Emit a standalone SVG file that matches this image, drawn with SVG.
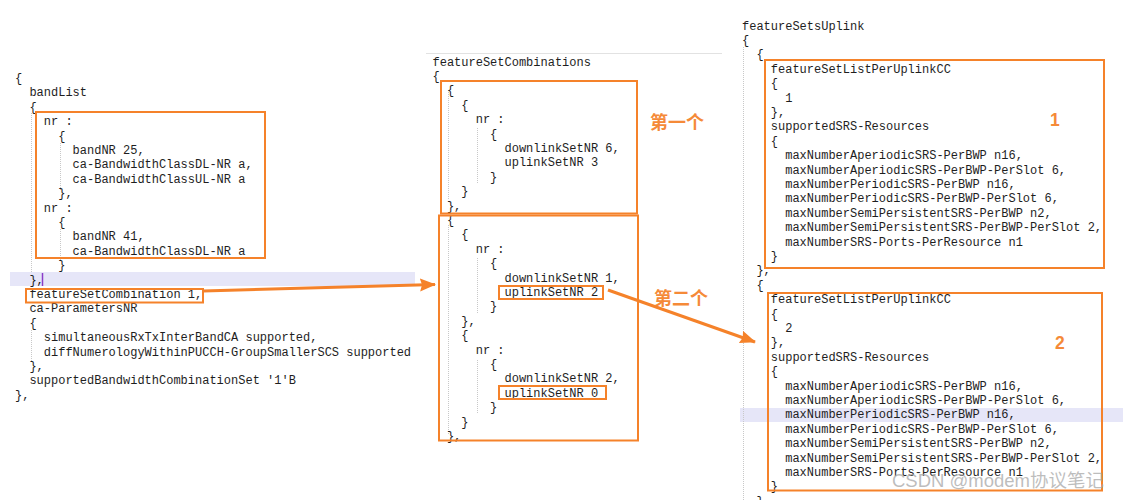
<svg xmlns="http://www.w3.org/2000/svg" width="1123" height="500" viewBox="0 0 1123 500">
<style>
.c{font-family:"Liberation Mono","Courier New",monospace;font-size:12px;fill:#1e1e1e}
.box{fill:none;stroke:#F5822A;stroke-width:2}
.guide{stroke:#c8c8c8;stroke-width:1;stroke-dasharray:1 1;fill:none}
.hl{fill:#E6E6F8}
.lbl{font-family:"Noto Sans CJK SC","Noto Sans",sans-serif;font-weight:bold;font-size:18px;fill:#F58A38}
.num{font-family:"Liberation Sans",Arial,sans-serif;font-weight:bold;font-size:17.5px;fill:#F58A38}
.conn{stroke:#F5822A;stroke-width:3;fill:none}
</style>
<defs>
<marker id="ah" markerUnits="userSpaceOnUse" markerWidth="16" markerHeight="14" refX="15" refY="6.5" orient="auto">
<path d="M0,0 L16,6.5 L0,13 L2,6.5 Z" fill="#F5822A"/>
</marker>
</defs>
<rect width="1123" height="500" fill="#ffffff"/>

<!-- backgrounds -->
<rect class="hl" x="10" y="272" width="405" height="14"/>
<rect class="hl" x="740" y="408" width="383" height="14"/>
<line x1="426" y1="53.5" x2="722" y2="53.5" stroke="#e2e2e2" stroke-width="1"/>
<line x1="42.5" y1="273" x2="42.5" y2="286" stroke="#8a3cc8" stroke-width="1.5"/>

<!-- indent guides -->
<g id="guides">
<line class="guide" x1="31.5" y1="113" x2="31.5" y2="272"/>
<line class="guide" x1="60.5" y1="143" x2="60.5" y2="190"/>
<line class="guide" x1="60.5" y1="229" x2="60.5" y2="261"/>
<line class="guide" x1="31.5" y1="330" x2="31.5" y2="361"/>
<line class="guide" x1="448.5" y1="90" x2="448.5" y2="200"/>
<line class="guide" x1="477.5" y1="128" x2="477.5" y2="183"/>
<line class="guide" x1="448.5" y1="225" x2="448.5" y2="434"/>
<line class="guide" x1="477.5" y1="258" x2="477.5" y2="314"/>
<line class="guide" x1="477.5" y1="360" x2="477.5" y2="413"/>
<line class="guide" x1="743.5" y1="47" x2="743.5" y2="500"/>
</g>

<!-- left panel -->
<g id="bandCombination">
<text class="c">
<tspan x="15" y="82">{</tspan>
<tspan x="29.4" y="96.4">bandList</tspan>
<tspan x="29.4" y="110.8">{</tspan>
<tspan x="43.8" y="125.2">nr :</tspan>
<tspan x="58.2" y="139.6">{</tspan>
<tspan x="72.6" y="154">bandNR 25,</tspan>
<tspan x="72.6" y="168.4">ca-BandwidthClassDL-NR a,</tspan>
<tspan x="72.6" y="182.8">ca-BandwidthClassUL-NR a</tspan>
<tspan x="58.2" y="197.2">},</tspan>
<tspan x="43.8" y="211.6">nr :</tspan>
<tspan x="58.2" y="226">{</tspan>
<tspan x="72.6" y="240.4">bandNR 41,</tspan>
<tspan x="72.6" y="254.8">ca-BandwidthClassDL-NR a</tspan>
<tspan x="58.2" y="269.2">}</tspan>
<tspan x="29.4" y="283.6">},</tspan>
<tspan x="29.4" y="298">featureSetCombination 1,</tspan>
<tspan x="29.4" y="312.4">ca-ParametersNR</tspan>
<tspan x="29.4" y="326.8">{</tspan>
<tspan x="43.8" y="341.2">simultaneousRxTxInterBandCA supported,</tspan>
<tspan x="43.8" y="355.6">diffNumerologyWithinPUCCH-GroupSmallerSCS supported</tspan>
<tspan x="29.4" y="370">},</tspan>
<tspan x="29.4" y="384.4">supportedBandwidthCombinationSet '1'B</tspan>
<tspan x="15" y="398.8">},</tspan>
</text>
<rect class="box" x="36" y="112" width="229" height="146"/>
<rect id="fscBox" class="box" x="26" y="289" width="177" height="13.5"/>
</g>

<!-- middle panel -->
<g id="featureSetCombinations">
<text class="c">
<tspan x="432.5" y="65.5">featureSetCombinations</tspan>
<tspan x="432.5" y="79.9">{</tspan>
<tspan x="446.9" y="94.3">{</tspan>
<tspan x="461.3" y="108.7">{</tspan>
<tspan x="475.7" y="123.1">nr :</tspan>
<tspan x="490.1" y="137.5">{</tspan>
<tspan x="504.5" y="151.9">downlinkSetNR 6,</tspan>
<tspan x="504.5" y="166.3">uplinkSetNR 3</tspan>
<tspan x="490.1" y="180.7">}</tspan>
<tspan x="461.3" y="195.1">}</tspan>
<tspan x="446.9" y="209.5">},</tspan>
<tspan x="446.9" y="223.9">{</tspan>
<tspan x="461.3" y="238.3">{</tspan>
<tspan x="475.7" y="252.7">nr :</tspan>
<tspan x="490.1" y="267.1">{</tspan>
<tspan x="504.5" y="281.5">downlinkSetNR 1,</tspan>
<tspan x="504.5" y="295.9">uplinkSetNR 2</tspan>
<tspan x="490.1" y="310.3">}</tspan>
<tspan x="461.3" y="324.7">},</tspan>
<tspan x="461.3" y="339.1">{</tspan>
<tspan x="475.7" y="353.5">nr :</tspan>
<tspan x="490.1" y="367.9">{</tspan>
<tspan x="504.5" y="382.3">downlinkSetNR 2,</tspan>
<tspan x="504.5" y="396.7">uplinkSetNR 0</tspan>
<tspan x="490.1" y="411.1">}</tspan>
<tspan x="461.3" y="425.5">}</tspan>
<tspan x="446.9" y="439.9">},</tspan>
</text>
</g>
<g id="combo1">
<rect class="box" x="441" y="81" width="196" height="132.5"/>
<text class="lbl" x="650" y="128.5">第一个</text>
</g>
<g id="combo2">
<rect class="box" x="439" y="215.5" width="199" height="225"/>
<rect id="ul2Box" class="box" x="499" y="286" width="104" height="13"/>
<rect id="ul0Box" class="box" x="499" y="386" width="107" height="13"/>
<text class="lbl" x="654" y="304.5">第二个</text>
</g>

<!-- right panel -->
<g id="featureSetsUplink">
<text class="c">
<tspan x="742" y="29.5">featureSetsUplink</tspan>
<tspan x="742" y="43.9">{</tspan>
<tspan x="756.4" y="58.3">{</tspan>
<tspan x="770.8" y="72.7">featureSetListPerUplinkCC</tspan>
<tspan x="770.8" y="87.1">{</tspan>
<tspan x="785.2" y="101.5">1</tspan>
<tspan x="770.8" y="115.9">},</tspan>
<tspan x="770.8" y="130.3">supportedSRS-Resources</tspan>
<tspan x="770.8" y="144.7">{</tspan>
<tspan x="785.2" y="159.1">maxNumberAperiodicSRS-PerBWP n16,</tspan>
<tspan x="785.2" y="173.5">maxNumberAperiodicSRS-PerBWP-PerSlot 6,</tspan>
<tspan x="785.2" y="187.9">maxNumberPeriodicSRS-PerBWP n16,</tspan>
<tspan x="785.2" y="202.3">maxNumberPeriodicSRS-PerBWP-PerSlot 6,</tspan>
<tspan x="785.2" y="216.7">maxNumberSemiPersistentSRS-PerBWP n2,</tspan>
<tspan x="785.2" y="231.1">maxNumberSemiPersistentSRS-PerBWP-PerSlot 2,</tspan>
<tspan x="785.2" y="245.5">maxNumberSRS-Ports-PerResource n1</tspan>
<tspan x="770.8" y="259.9">}</tspan>
<tspan x="756.4" y="274.3">},</tspan>
<tspan x="756.4" y="288.7">{</tspan>
<tspan x="770.8" y="303.1">featureSetListPerUplinkCC</tspan>
<tspan x="770.8" y="317.5">{</tspan>
<tspan x="785.2" y="331.9">2</tspan>
<tspan x="770.8" y="346.3">},</tspan>
<tspan x="770.8" y="360.7">supportedSRS-Resources</tspan>
<tspan x="770.8" y="375.1">{</tspan>
<tspan x="785.2" y="389.5">maxNumberAperiodicSRS-PerBWP n16,</tspan>
<tspan x="785.2" y="403.9">maxNumberAperiodicSRS-PerBWP-PerSlot 6,</tspan>
<tspan x="785.2" y="418.3">maxNumberPeriodicSRS-PerBWP n16,</tspan>
<tspan x="785.2" y="432.7">maxNumberPeriodicSRS-PerBWP-PerSlot 6,</tspan>
<tspan x="785.2" y="447.1">maxNumberSemiPersistentSRS-PerBWP n2,</tspan>
<tspan x="785.2" y="461.5">maxNumberSemiPersistentSRS-PerBWP-PerSlot 2,</tspan>
<tspan x="785.2" y="475.9">maxNumberSRS-Ports-PerResource n1</tspan>
<tspan x="770.8" y="490.3">}</tspan>
<tspan x="756.4" y="504.7">},</tspan>
</text>
</g>
<g id="uplink1">
<rect class="box" x="765" y="60" width="339" height="208"/>
<text class="num" x="1050" y="125.5">1</text>
</g>
<g id="uplink2">
<rect class="box" x="768" y="293" width="334" height="197.5"/>
<text class="num" x="1055" y="348.5">2</text>
</g>

<!-- connectors -->
<g id="connectors">
<line class="conn" x1="203" y1="291" x2="435" y2="284.5" marker-end="url(#ah)"/>
<line class="conn" x1="608" y1="290" x2="755" y2="342" marker-end="url(#ah)"/>
</g>

<text x="892" y="487" font-family="'Liberation Sans','Noto Sans CJK SC',sans-serif" font-size="18.5" fill="#a8a8a8" fill-opacity="0.75">CSDN @modem协议笔记</text>
</svg>
